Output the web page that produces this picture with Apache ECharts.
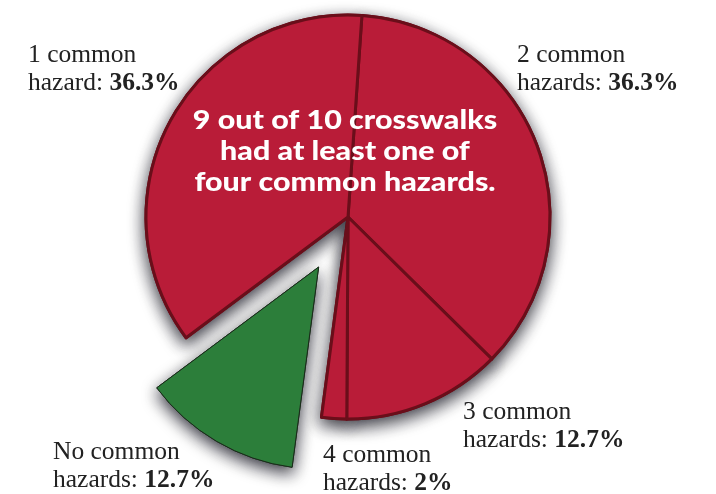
<!DOCTYPE html>
<html><head><meta charset="utf-8">
<script src="https://cdn.jsdelivr.net/npm/echarts@6/dist/echarts.min.js"></script>
<style>html,body{margin:0;padding:0;background:#fff}#c{width:716px;height:494px}</style>
</head><body><div id="c"></div>
<script>
// Data (clockwise from top)
const categories = ['2 common hazards', '3 common hazards', '4 common hazards', 'No common hazards', '1 common hazard'];
const values = [36.3, 12.7, 2, 12.7, 36.3];
const labelLine1 = ['2 common', '3 common', '4 common', 'No common', '1 common'];
const labelLine2 = ['hazards: ', 'hazards: ', 'hazards: ', 'hazards: ', 'hazard: '];
const valueText = ['36.3%', '12.7%', '2%', '12.7%', '36.3%'];
const headline = ['9 out of 10 crosswalks', 'had at least one of', 'four common hazards.'];

const labelPos = [[517, 42], [463, 399], [323, 442], [53, 439], [28, 42]];

const RED = '#B91C38', GREEN = '#2C7E3A', BORDER = '#6A0E1A';

const chart = echarts.init(document.getElementById('c'));
const serif = '"Liberation Serif", "DejaVu Serif", serif';

const graphics = categories.map((c, i) => ({
  type: 'text', left: labelPos[i][0], top: labelPos[i][1],
  style: {
    text: '{n|' + labelLine1[i] + '}\n{n|' + labelLine2[i] + '}{b|' + valueText[i] + '}',
    rich: {
      n: { fontFamily: serif, fontSize: 25.5, lineHeight: 28.5, fill: '#222' },
      b: { fontFamily: serif, fontSize: 25.5, lineHeight: 28.5, fontWeight: 'bold', fill: '#222' }
    }
  }
}));
graphics.push({
  type: 'text', x: 345, y: 105, z: 100, scaleX: 1.17, scaleY: 1,
  style: {
    x: 0, y: 0, text: headline.join('\n'), fill: '#fff', textAlign: 'center', textVerticalAlign: 'top',
    fontFamily: 'Lato, "Open Sans", sans-serif', fontWeight: 900, fontSize: 26, lineHeight: 31
  }
});

function pieSeries(withShadow) {
  return {
    type: 'pie',
    name: withShadow ? 'shadow' : 'main',
    center: [348, 217],
    radius: 202,
    startAngle: 86.05,
    clockwise: true,
    selectedMode: 'multiple',
    selectedOffset: 58,
    z: withShadow ? 1 : 3,
    label: { show: false },
    labelLine: { show: false },
    emphasis: { disabled: true },
    data: categories.map((c, i) => {
      const st = i === 3
        ? { color: GREEN, borderColor: '#1a2a1a', borderWidth: 1 }
        : { color: RED, borderColor: BORDER, borderWidth: 3 };
      if (withShadow) Object.assign(st, { shadowBlur: 16, shadowColor: 'rgba(20,20,30,0.85)', shadowOffsetX: 0, shadowOffsetY: 6 });
      return { name: c, value: values[i], selected: i === 3, itemStyle: st };
    })
  };
}

chart.setOption({
  animation: false,
  graphic: graphics,
  series: [pieSeries(true), pieSeries(false)]
});
</script></body></html>
